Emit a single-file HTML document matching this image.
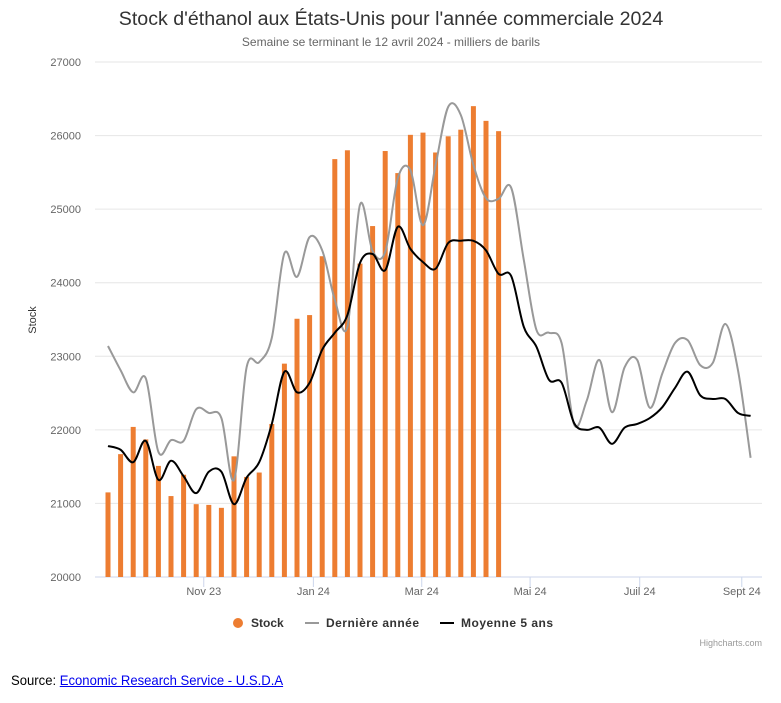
<!DOCTYPE html>
<html><head><meta charset="utf-8">
<style>
body{margin:0;background:#fff;width:781px;height:703px;overflow:hidden;font-family:"Liberation Sans",sans-serif}
#src{position:absolute;left:11px;top:672px;font-size:14px;color:#000;transform:scaleX(0.935);transform-origin:0 0}
#src a{color:#00e}
</style></head><body>
<svg id="chart" width="781" height="660" style="position:absolute;left:0;top:0" font-family="Liberation Sans, sans-serif">
<text x="391" y="25" text-anchor="middle" font-size="19.6" fill="#333">Stock d'éthanol aux États-Unis pour l'année commerciale 2024</text>
<text x="391" y="46" text-anchor="middle" font-size="12" fill="#666">Semaine se terminant le 12 avril 2024 - milliers de barils</text>
<text transform="translate(36,320) rotate(-90)" text-anchor="middle" font-size="11" fill="#333">Stock</text>
<g id="grid"></g><g id="bars"></g><g id="lines"></g><g id="xaxis"></g>
<g font-size="12" font-weight="bold" fill="#333">
 <g><circle cx="238" cy="623" r="5" fill="#ed7d31"/><text x="251" y="627">Stock</text></g>
 <g><line x1="305" y1="623" x2="319" y2="623" stroke="#999" stroke-width="2"/><text x="326" y="627" textLength="93">Dernière année</text></g>
 <g><line x1="440" y1="623" x2="454" y2="623" stroke="#000" stroke-width="2"/><text x="461" y="627" textLength="92">Moyenne 5 ans</text></g>
</g>
<text x="762" y="646" text-anchor="end" font-size="9" fill="#999">Highcharts.com</text>
</svg>
<div id="src">Source: <a href="#">Economic Research Service - U.S.D.A</a></div>
<script>
const yTicks=[20000,21000,22000,23000,24000,25000,26000,27000];
const xTickLabels=["Nov 23","Jan 24","Mar 24","Mai 24","Juil 24","Sept 24"];
const xTickWeeks=[7.6,16.3,24.9,33.5,42.2,50.3];
const stock=[21150,21670,22040,21870,21510,21100,21390,20990,20980,20940,21640,21360,21420,22080,22900,23510,23560,24360,25680,25800,24260,24770,25790,25490,26010,26040,25770,25990,26080,26400,26200,26060];
const lastYear=[23140,22810,22510,22700,21700,21860,21850,22280,22230,22160,21320,22850,22920,23250,24400,24080,24620,24440,23770,23400,25060,24430,24420,25420,25530,24780,25600,26390,26280,25600,25150,25140,25290,24310,23360,23320,23180,22070,22400,22950,22240,22850,22950,22300,22770,23180,23220,22880,22910,23440,22810,21620];
const avg5=[21780,21730,21560,21850,21320,21580,21370,21140,21430,21430,20990,21350,21560,22080,22790,22510,22640,23090,23320,23560,24270,24390,24170,24760,24460,24280,24190,24540,24570,24570,24440,24120,24090,23400,23130,22680,22640,22090,22000,22030,21810,22030,22080,22160,22310,22570,22790,22470,22420,22420,22230,22190];
const NS="http://www.w3.org/2000/svg";
const X=i=>108+i*12.6;
const Y=v=>577-(v-20000)*515/7000;
function mk(t,a,p){const e=document.createElementNS(NS,t);for(const k in a)e.setAttribute(k,a[k]);p.appendChild(e);return e;}
const grid=document.getElementById('grid');
yTicks.forEach(v=>{
 const l=mk('line',{x1:95,x2:762,y1:Y(v),y2:Y(v),stroke:v===20000?'#ccd6eb':'#e6e6e6','stroke-width':1},grid);
 
 
 const t=mk('text',{x:81,y:Y(v)+4,'text-anchor':'end','font-size':11,fill:'#666'},grid);
 t.textContent=v;
 
 
});
const bars=document.getElementById('bars');
stock.forEach((v,i)=>{
 const r=mk('rect',{x:X(i)-2.5,y:Y(v),width:5,height:Y(20000)-Y(v),fill:'#ed7d31'},bars);
 
 
});
function spline(d){
 const p=d.map((v,i)=>[X(i),Y(v)]);let s='M'+p[0][0]+','+p[0][1];
 for(let i=0;i<p.length-1;i++){const a=p[Math.max(i-1,0)],b=p[i],c=p[i+1],e=p[Math.min(i+2,p.length-1)];
  s+=` C${b[0]+(c[0]-a[0])/6},${b[1]+(c[1]-a[1])/6} ${c[0]-(e[0]-b[0])/6},${c[1]-(e[1]-b[1])/6} ${c[0]},${c[1]}`;}
 return s;}
const lines=document.getElementById('lines');
const l1=mk('path',{d:spline(lastYear),fill:'none',stroke:'#999','stroke-width':2},lines);


const l2=mk('path',{d:spline(avg5),fill:'none',stroke:'#000','stroke-width':2},lines);


const xa=document.getElementById('xaxis');
xTickLabels.forEach((s,k)=>{
 const x=X(xTickWeeks[k]);
 mk('line',{x1:x,x2:x,y1:577,y2:587,stroke:'#ccd6eb'},xa);
 const t=mk('text',{x:x,y:595,'text-anchor':'middle','font-size':11,fill:'#666'},xa);
 t.textContent=s;
 
 
});
</script>
</body></html>
